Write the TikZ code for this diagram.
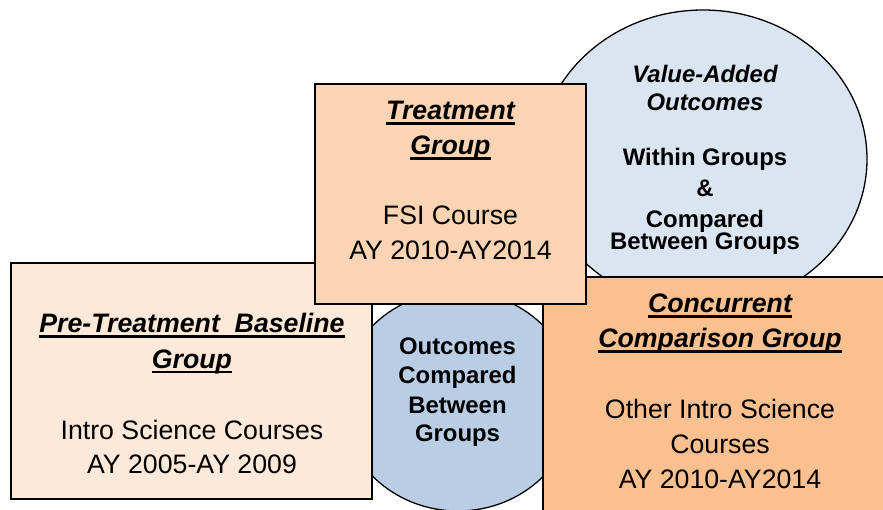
\documentclass[tikz,border=0pt]{standalone}
\usepackage{fontspec}
\setmainfont{Liberation Sans}
\usetikzlibrary{shapes.geometric}
\definecolor{prefill}{HTML}{FDE9D9}
\definecolor{treatfill}{HTML}{FBD4B4}
\definecolor{concfill}{HTML}{FAC090}
\definecolor{vafill}{HTML}{DBE5F1}
\definecolor{ocfill}{HTML}{B9CDE5}
\newcommand\hul[1]{\setbox0\hbox{#1}\rlap{\rule[-5pt]{\wd0}{2.5pt}}\box0}
\tikzset{
  shapebox/.style={draw=black, line width=1.3pt, inner sep=0pt, rectangle},
  shapeell/.style={draw=black, line width=1.3pt, inner sep=0pt, ellipse},
  bodytext/.style={anchor=base, inner sep=0pt, font=\fontsize{26.7}{30}\selectfont},
  headtext/.style={anchor=base, inner sep=0pt, font=\fontsize{26.7}{30}\selectfont\bfseries\itshape},
  circtext/.style={anchor=base, inner sep=0pt, font=\fontsize{23.9}{28}\selectfont\bfseries},
  circitext/.style={anchor=base, inner sep=0pt, font=\fontsize{23.9}{28}\selectfont\bfseries\itshape},
}
\begin{document}
\begin{tikzpicture}[x=1pt, y=-1pt]
\useasboundingbox (0,0) rectangle (883,510);
\clip (0,0) rectangle (883,510);
% shapes
\node[shapeell, fill=vafill, minimum width=328pt, minimum height=298pt] (va) at (703,159) {};
\node[shapeell, fill=ocfill, minimum width=234pt, minimum height=220pt] (oc) at (458,401) {};
\node[shapebox, fill=prefill, minimum width=361pt, minimum height=236pt] (pre) at (191.5,381) {};
\node[shapebox, fill=concfill, minimum width=357pt, minimum height=253pt] (conc) at (721.5,403.5) {};
\node[shapebox, fill=treatfill, minimum width=271pt, minimum height=220pt] (treat) at (450.5,194) {};
% pre-treatment text
\node[headtext] (preh1) at (192,333) {\hul{Pre-Treatment\ \ Baseline}};
\node[headtext] (preh2) at (192,368) {\hul{Group}};
\node[bodytext] (pre1) at (192,439) {Intro Science Courses};
\node[bodytext] (pre2) at (192,473) {AY 2005-AY 2009};
% treatment text
\node[headtext] (trh1) at (450.5,120) {\hul{Treatment}};
\node[headtext] (trh2) at (450.5,155) {\hul{Group}};
\node[bodytext] (tr1) at (450.5,225) {FSI Course};
\node[bodytext] (tr2) at (450.5,260) {AY 2010-AY2014};
% value-added text
\node[circitext] (va1) at (705,83) {Value-Added};
\node[circitext] (va2) at (705,111) {Outcomes};
\node[circtext] (va3) at (705,166) {Within Groups};
\node[circtext] (va4) at (705,197) {\&};
\node[circtext] (va5) at (705,228) {Compared};
\node[circtext] (va6) at (705,250) {Between Groups};
% outcomes compared text
\node[circtext] (oc1) at (457.5,354.5) {Outcomes};
\node[circtext] (oc2) at (457.5,383.5) {Compared};
\node[circtext] (oc3) at (457.5,413) {Between};
\node[circtext] (oc4) at (457.5,441.5) {Groups};
% concurrent text
\node[headtext] (coh1) at (720,313) {\hul{Concurrent}};
\node[headtext] (coh2) at (720,348) {\hul{Comparison Group}};
\node[bodytext] (co1) at (720,418) {Other Intro Science};
\node[bodytext] (co2) at (720,453) {Courses};
\node[bodytext] (co3) at (720,488) {AY 2010-AY2014};
\end{tikzpicture}
\end{document}
